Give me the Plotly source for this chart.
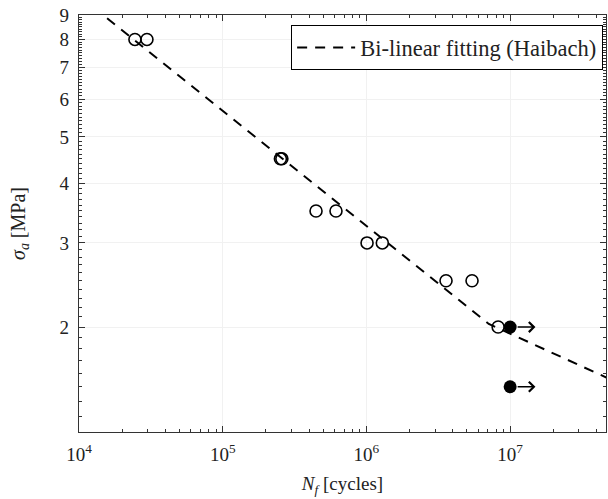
import numpy as np
import plotly.graph_objects as go

# Fatigue test results: stress amplitude vs. cycles to failure
n_failed = [2.45e4, 2.97e4, 2.52e5, 2.58e5, 4.46e5, 6.14e5, 1.01e6, 1.29e6, 3.58e6, 5.43e6, 8.25e6]
s_failed = [8.0, 8.0, 4.5, 4.5, 3.5, 3.5, 3.0, 3.0, 2.5, 2.5, 2.0]

# Run-outs (test stopped without failure)
n_runout = [1.0e7, 1.0e7]
s_runout = [2.0, 1.5]
runout_arrow_factor = 1.5

# Haibach bi-linear S-N fit parameters
knee_N = 7.1e6
knee_sigma = 2.03
slope_k = 4.15
fit_N_span = [1.0e4, 5.0e7]

y_tick_vals = [2, 3, 4, 5, 6, 7, 8, 9]
x_tick_exps = [4, 5, 6, 7]
x_range_log = [4.0, 7.667]
y_range_log = [np.log10(1.206), np.log10(9.0)]

SERIF = "Liberation Serif"

# Fit line: slope -1/k before the knee, -1/(2k-1) after it
fit_N = np.array([fit_N_span[0], knee_N, fit_N_span[1]])
fit_sigma = np.where(
    fit_N <= knee_N,
    knee_sigma * (fit_N / knee_N) ** (-1.0 / slope_k),
    knee_sigma * (fit_N / knee_N) ** (-1.0 / (2 * slope_k - 1)),
)

fig = go.Figure()

fig.add_trace(go.Scatter(
    x=fit_N, y=fit_sigma, mode="lines",
    line=dict(color="black", width=2, dash="10px,8px"),
    name="Bi-linear fitting (Haibach)",
))

fig.add_trace(go.Scatter(
    x=n_failed, y=s_failed, mode="markers",
    marker=dict(symbol="circle-open", size=12, color="black", line=dict(width=1.6)),
    showlegend=False,
))

fig.add_trace(go.Scatter(
    x=n_runout, y=s_runout, mode="markers",
    marker=dict(symbol="circle", size=13, color="black"),
    showlegend=False,
))

for n, s in zip(n_runout, s_runout):
    fig.add_annotation(
        x=np.log10(n * runout_arrow_factor), y=np.log10(s),
        ax=np.log10(n), ay=np.log10(s),
        xref="x", yref="y", axref="x", ayref="y",
        showarrow=True, arrowhead=4, arrowsize=1.3, arrowwidth=1.5,
        arrowcolor="black", startstandoff=6, text="",
    )

minor_y = [v / 10 for v in range(13, 90) if v % 10 != 0]
minor_x = [m * 10 ** e for e in range(4, 8) for m in range(2, 10)]

axis_common = dict(
    type="log", showline=True, linecolor="#333", linewidth=1.3, mirror="allticks",
    ticks="inside", ticklen=6, tickcolor="#333", tickwidth=1,
    tickfont=dict(family=SERIF, size=19, color="#222"),
    showgrid=True, gridcolor="#f1f1f1", gridwidth=1, zeroline=False,
)

fig.update_xaxes(
    **axis_common, range=x_range_log, tickmode="array",
    tickvals=[10 ** e for e in x_tick_exps],
    ticktext=[f"10<sup>{e}</sup>" for e in x_tick_exps],
    ticklabelstandoff=5,
    minor=dict(tickvals=minor_x, ticks="inside", ticklen=3, tickcolor="#333", showgrid=False),
    title=dict(text="<i>N</i><sub><i>f</i></sub> [cycles]",
               font=dict(family=SERIF, size=19, color="#222"), standoff=12),
)
fig.update_yaxes(
    **axis_common, range=y_range_log, tickmode="array", tickvals=y_tick_vals,
    ticktext=[str(v) for v in y_tick_vals],
    ticklabelstandoff=5,
    minor=dict(tickvals=minor_y, ticks="inside", ticklen=3, tickcolor="#333", showgrid=False),
    title=dict(text="<i>σ</i><sub><i>a</i></sub> [MPa]",
               font=dict(family=SERIF, size=20, color="#222"), standoff=28),
)

fig.update_layout(
    width=608, height=499,
    margin=dict(l=79, r=2, t=15, b=67),
    paper_bgcolor="white", plot_bgcolor="white",
    legend=dict(
        x=0.994, y=0.976, xanchor="right", yanchor="top",
        bgcolor="white", bordercolor="black", borderwidth=1.3,
        itemwidth=58,
        font=dict(family=SERIF, size=22.5, color="#222"),
    ),
)

fig.write_html("out.html")
